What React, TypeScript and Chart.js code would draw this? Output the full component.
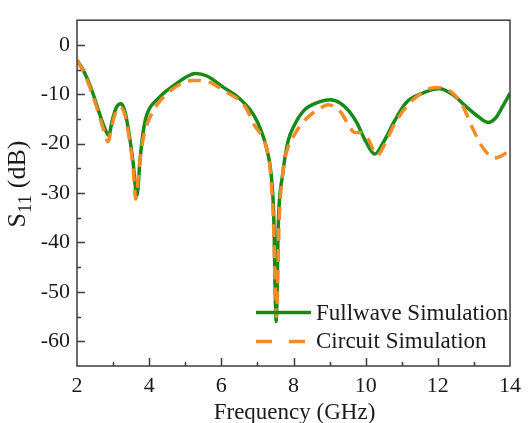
import { useEffect, useRef } from "react";
import { Chart, registerables } from "chart.js";
Chart.register(...registerables);

const fullwaveFreq = [2.0, 2.15, 2.3, 2.45, 2.6, 2.75, 2.88, 2.97, 3.08, 3.22, 3.33, 3.45, 3.55, 3.66, 3.75, 3.82, 3.9, 4.0, 4.2, 4.46, 4.82, 5.0, 5.28, 5.6, 6.1, 6.4, 6.65, 6.9, 7.1, 7.25, 7.38, 7.45, 7.52, 7.58, 7.7, 7.85, 8.02, 8.3, 8.66, 9.02, 9.3, 9.55, 9.75, 10.0, 10.25, 10.5, 10.8, 11.12, 11.5, 12.04, 12.4, 12.77, 13.1, 13.39, 13.6, 13.8, 14.0];
const fullwaveS11 = [-3.1, -4.8, -7.1, -10.0, -13.4, -16.5, -18.3, -15.5, -12.8, -11.9, -13.5, -18.3, -23.5, -30.5, -23.0, -18.3, -15.0, -13.0, -11.2, -9.4, -7.5, -6.6, -5.8, -6.3, -8.8, -10.2, -11.9, -14.2, -17.3, -20.8, -26.2, -34.0, -56.0, -36.0, -26.2, -19.5, -16.3, -13.2, -11.7, -11.1, -11.8, -13.5, -15.7, -19.5, -22.1, -19.6, -15.4, -11.7, -10.0, -8.9, -10.0, -12.4, -14.4, -15.7, -14.8, -12.4, -9.8];

const circuitFreq = [2.0, 2.15, 2.3, 2.45, 2.6, 2.75, 2.86, 2.96, 3.08, 3.2, 3.32, 3.45, 3.55, 3.63, 3.72, 3.82, 3.92, 4.0, 4.2, 4.46, 4.82, 5.2, 5.55, 6.1, 6.65, 6.92, 7.23, 7.35, 7.44, 7.53, 7.6, 7.72, 7.84, 8.0, 8.19, 8.5, 8.77, 8.95, 9.15, 9.32, 9.55, 9.68, 9.9, 10.06, 10.32, 10.55, 10.78, 11.14, 11.69, 11.96, 12.42, 12.7, 12.97, 13.2, 13.42, 13.55, 13.75, 14.0];
const circuitS11 = [-3.1, -5.0, -7.5, -10.5, -13.9, -17.5, -19.6, -16.5, -13.5, -12.6, -14.0, -19.0, -24.5, -31.2, -25.0, -19.5, -16.5, -15.0, -12.3, -10.1, -8.1, -7.2, -7.3, -9.4, -12.4, -16.3, -20.3, -25.0, -35.0, -55.0, -36.0, -25.0, -20.9, -18.5, -16.3, -14.0, -12.7, -12.1, -12.6, -13.7, -16.5, -17.7, -17.8, -19.0, -22.3, -19.8, -16.3, -12.4, -9.1, -8.6, -9.8, -12.5, -17.0, -20.3, -22.3, -22.9, -22.5, -21.3];

const seriesNames = ["Fullwave Simulation", "Circuit Simulation"];
const xTitle = "Frequency (GHz)";
const yTitleMain = "S";
const yTitleSub = "11";
const yTitleUnit = " (dB)";

const GREEN = "#178a17";
const ORANGE = "#f28c28";
const SERIF = "'Liberation Serif', 'Times New Roman', serif";

const decor = {
  id: "decor",
  afterDraw(chart: any) {
    const ctx = chart.ctx as CanvasRenderingContext2D;
    const { left, right, top, bottom } = chart.chartArea;
    const xs = chart.scales.x;
    const ys = chart.scales.y;
    ctx.save();
    ctx.strokeStyle = "#3c3c3c";
    ctx.lineWidth = 1.5;
    ctx.strokeRect(left, top, right - left, bottom - top);
    ctx.beginPath();
    for (let v = 3; v <= 13; v += 1) {
      const px = Math.round(xs.getPixelForValue(v)) + 0.5;
      const len = v % 2 === 0 ? 8 : 4;
      ctx.moveTo(px, bottom);
      ctx.lineTo(px, bottom - len);
    }
    for (let v = -60; v <= 0; v += 5) {
      const py = Math.round(ys.getPixelForValue(v)) + 0.5;
      const len = v % 10 === 0 ? 8 : 4;
      ctx.moveTo(left, py);
      ctx.lineTo(left + len, py);
    }
    ctx.stroke();

    // legend
    ctx.lineWidth = 3.5;
    ctx.strokeStyle = GREEN;
    ctx.setLineDash([]);
    ctx.beginPath();
    ctx.moveTo(256, 312.5);
    ctx.lineTo(311, 312.5);
    ctx.stroke();
    ctx.strokeStyle = ORANGE;
    ctx.setLineDash([16, 17]);
    ctx.beginPath();
    ctx.moveTo(256, 341.5);
    ctx.lineTo(306, 341.5);
    ctx.stroke();
    ctx.setLineDash([]);

    ctx.fillStyle = "#1a1a1a";
    ctx.font = `23px ${SERIF}`;
    ctx.textAlign = "left";
    ctx.textBaseline = "alphabetic";
    ctx.fillText(seriesNames[0], 316, 319.5);
    ctx.fillText(seriesNames[1], 316, 347.5);

    // x title
    ctx.textAlign = "center";
    ctx.fillText(xTitle, (left + right) / 2 + 1, 419);

    // y title
    ctx.save();
    ctx.translate(25, 184);
    ctx.rotate(-Math.PI / 2);
    ctx.textAlign = "left";
    const mainFont = `26px ${SERIF}`;
    const subFont = `19px ${SERIF}`;
    ctx.font = mainFont;
    const wS = ctx.measureText(yTitleMain).width;
    const wU = ctx.measureText(yTitleUnit).width;
    ctx.font = subFont;
    const wSub = ctx.measureText(yTitleSub).width;
    const total = wS + wSub + wU;
    let x0 = -total / 2;
    ctx.font = mainFont;
    ctx.fillText(yTitleMain, x0, 0);
    x0 += wS;
    ctx.font = subFont;
    ctx.fillText(yTitleSub, x0, 6);
    x0 += wSub;
    ctx.font = mainFont;
    ctx.fillText(yTitleUnit, x0, 0);
    ctx.restore();

    ctx.restore();
  },
};

export default function App() {
  const ref = useRef<HTMLCanvasElement>(null);
  useEffect(() => {
    if (!ref.current) return;
    const chart = new Chart(ref.current, {
      type: "line",
      data: {
        datasets: [
          {
            label: seriesNames[0],
            data: fullwaveFreq.map((f, i) => ({ x: f, y: fullwaveS11[i] })),
            borderColor: GREEN,
            borderWidth: 3.5,
            pointRadius: 0,
            cubicInterpolationMode: "monotone",
            fill: false,
            order: 1,
          },
          {
            label: seriesNames[1],
            data: circuitFreq.map((f, i) => ({ x: f, y: circuitS11[i] })),
            borderColor: ORANGE,
            borderWidth: 3.5,
            borderDash: [13, 8],
            pointRadius: 0,
            cubicInterpolationMode: "monotone",
            fill: false,
            order: 0,
          },
        ],
      },
      options: {
        responsive: false,
        animation: false,
        devicePixelRatio: 1,
        layout: { padding: { top: 12, right: 13, left: 0, bottom: 0 } },
        plugins: { legend: { display: false }, tooltip: { enabled: false } },
        scales: {
          x: {
            type: "linear",
            min: 2,
            max: 14,
            grid: { display: false, drawTicks: false },
            border: { display: false },
            afterFit: (s: any) => {
              s.height = 57;
            },
            ticks: {
              stepSize: 2,
              autoSkip: false,
              maxRotation: 0,
              padding: 7,
              color: "#1a1a1a",
              font: { family: SERIF, size: 22 },
              callback: (v: any) => String(v),
            },
          },
          y: {
            type: "linear",
            min: -65,
            max: 5,
            grid: { display: false, drawTicks: false },
            border: { display: false },
            afterFit: (s: any) => {
              s.width = 77;
            },
            ticks: {
              stepSize: 5,
              autoSkip: false,
              padding: 7,
              color: "#1a1a1a",
              font: { family: SERIF, size: 22 },
              callback: (v: any) => (Number(v) % 10 === 0 ? String(v) : ""),
            },
          },
        },
      },
      plugins: [decor],
    });
    return () => chart.destroy();
  }, []);
  return (
    <div style={{ position: "fixed", left: 0, top: 0, width: 528, height: 423, background: "#fff" }}>
      <canvas ref={ref} width={528} height={423} />
    </div>
  );
}
